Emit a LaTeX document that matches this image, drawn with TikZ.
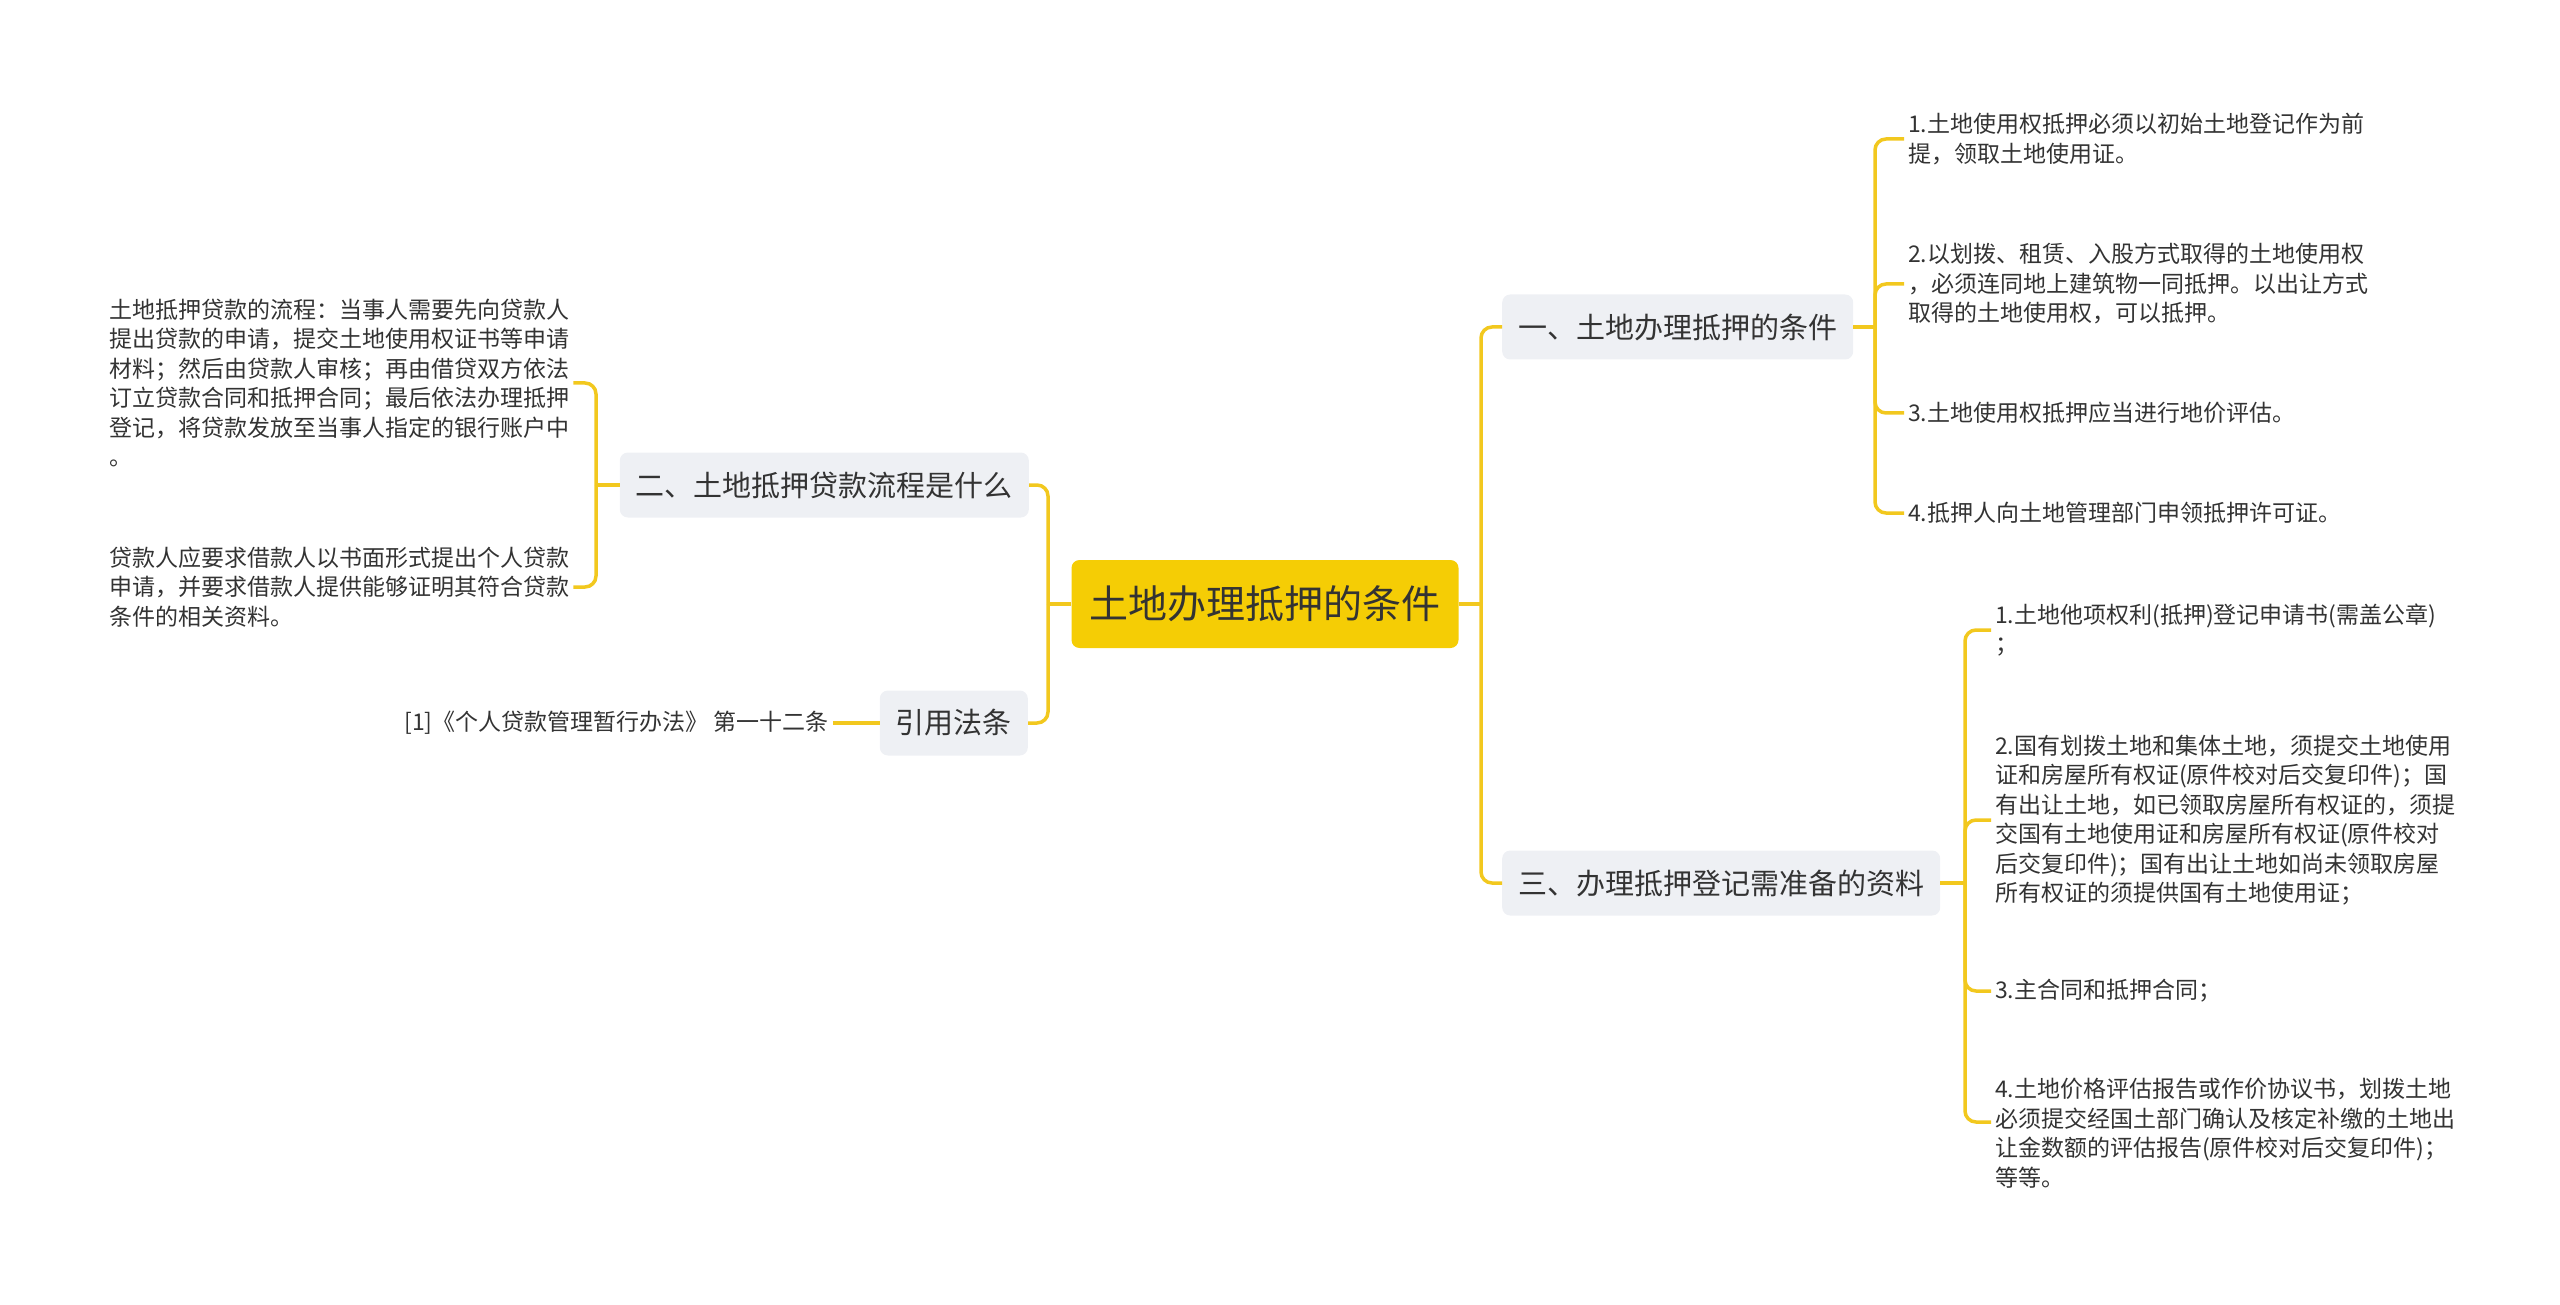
\documentclass[tikz,border=0pt]{standalone}
\usepackage{fontspec}
\setmainfont{Noto Sans CJK SC}
\usepackage{xcolor}
\definecolor{rootfill}{HTML}{F5CD05}
\definecolor{subfill}{HTML}{EEF0F4}
\definecolor{linkgold}{HTML}{F2C81E}
\definecolor{ink}{HTML}{333333}

\begin{document}
\begin{tikzpicture}[x=1pt, y=-1pt,
    root/.style={fill=rootfill, rounded corners=8pt, minimum width=387pt, minimum height=88pt, text=ink, font=\fontsize{39}{39}\selectfont},
    sub/.style={fill=subfill, rounded corners=8pt, minimum height=65pt, inner xsep=16pt, text=ink, font=\fontsize{29}{29}\selectfont},
    leaf/.style={align=left, inner sep=4pt, text=ink, font=\fontsize{23}{29.5}\selectfont},
    link/.style={draw=linkgold, line width=3.5pt, rounded corners=11pt}]
    \useasboundingbox (0,0) rectangle (2560,1305);

    \node[root] (root) at (1265, 604) {土地办理抵押的条件};

    \node[sub, anchor=east] (s2) at (1029, 485) {二、土地抵押贷款流程是什么};
    \node[sub, anchor=east] (cite) at (1028, 723) {引用法条};
    \node[sub, anchor=west] (s1) at (1502, 327) {一、土地办理抵押的条件};
    \node[sub, anchor=west] (s3) at (1502, 883) {三、办理抵押登记需准备的资料};

    \node[leaf, anchor=west] (l1) at (105, 383) {土地抵押贷款的流程：当事人需要先向贷款人\\提出贷款的申请，提交土地使用权证书等申请\\材料；然后由贷款人审核；再由借贷双方依法\\订立贷款合同和抵押合同；最后依法办理抵押\\登记，将贷款发放至当事人指定的银行账户中\\。};
    \node[leaf, anchor=west] (l2) at (105, 587) {贷款人应要求借款人以书面形式提出个人贷款\\申请，并要求借款人提供能够证明其符合贷款\\条件的相关资料。};
    \node[leaf, anchor=east] (ref) at (833, 723) {[1]《个人贷款管理暂行办法》 第一十二条};

    \node[leaf, anchor=west] (c1) at (1904, 139) {1.土地使用权抵押必须以初始土地登记作为前\\提，领取土地使用证。};
    \node[leaf, anchor=west] (c2) at (1904, 284) {2.以划拨、租赁、入股方式取得的土地使用权\\，必须连同地上建筑物一同抵押。以出让方式\\取得的土地使用权，可以抵押。};
    \node[leaf, anchor=west] (c3) at (1904, 413) {3.土地使用权抵押应当进行地价评估。};
    \node[leaf, anchor=west] (c4) at (1904, 513) {4.抵押人向土地管理部门申领抵押许可证。};

    \node[leaf, anchor=west] (d1) at (1991, 630) {1.土地他项权利(抵押)登记申请书(需盖公章)\\；};
    \node[leaf, anchor=west] (d2) at (1991, 820) {2.国有划拨土地和集体土地，须提交土地使用\\证和房屋所有权证(原件校对后交复印件)；国\\有出让土地，如已领取房屋所有权证的，须提\\交国有土地使用证和房屋所有权证(原件校对\\后交复印件)；国有出让土地如尚未领取房屋\\所有权证的须提供国有土地使用证；};
    \node[leaf, anchor=west] (d3) at (1991, 991) {3.主合同和抵押合同；};
    \node[leaf, anchor=west] (d4) at (1991, 1133) {4.土地价格评估报告或作价协议书，划拨土地\\必须提交经国土部门确认及核定补缴的土地出\\让金数额的评估报告(原件校对后交复印件)；\\等等。};

    \coordinate (lj) at (1048, 604);
    \coordinate (rj) at (1481, 604);
    \coordinate (s2j) at (596, 485);
    \coordinate (s1j) at (1875, 327);
    \coordinate (s3j) at (1965, 883);

    \draw[link] (root.west) -- (lj);
    \draw[link] (s2.east) -| (lj);
    \draw[link] (cite.east) -| (lj);
    \draw[link] (root.east) -- (rj);
    \draw[link] (s1.west) -| (rj);
    \draw[link] (s3.west) -| (rj);

    \draw[link] (s2.west) -- (s2j);
    \draw[link] (l1.east) -| (s2j);
    \draw[link] (l2.east) -| (s2j);
    \draw[link] (cite.west) -- (ref.east);

    \draw[link] (s1.east) -- (s1j);
    \draw[link] (c1.west) -| (s1j);
    \draw[link] (c2.west) -| (s1j);
    \draw[link] (c3.west) -| (s1j);
    \draw[link] (c4.west) -| (s1j);

    \draw[link] (s3.east) -- (s3j);
    \draw[link] (d1.west) -| (s3j);
    \draw[link] (d2.west) -| (s3j);
    \draw[link] (d3.west) -| (s3j);
    \draw[link] ([yshift=11pt]d4.west) -| (s3j);
\end{tikzpicture}
\end{document}
